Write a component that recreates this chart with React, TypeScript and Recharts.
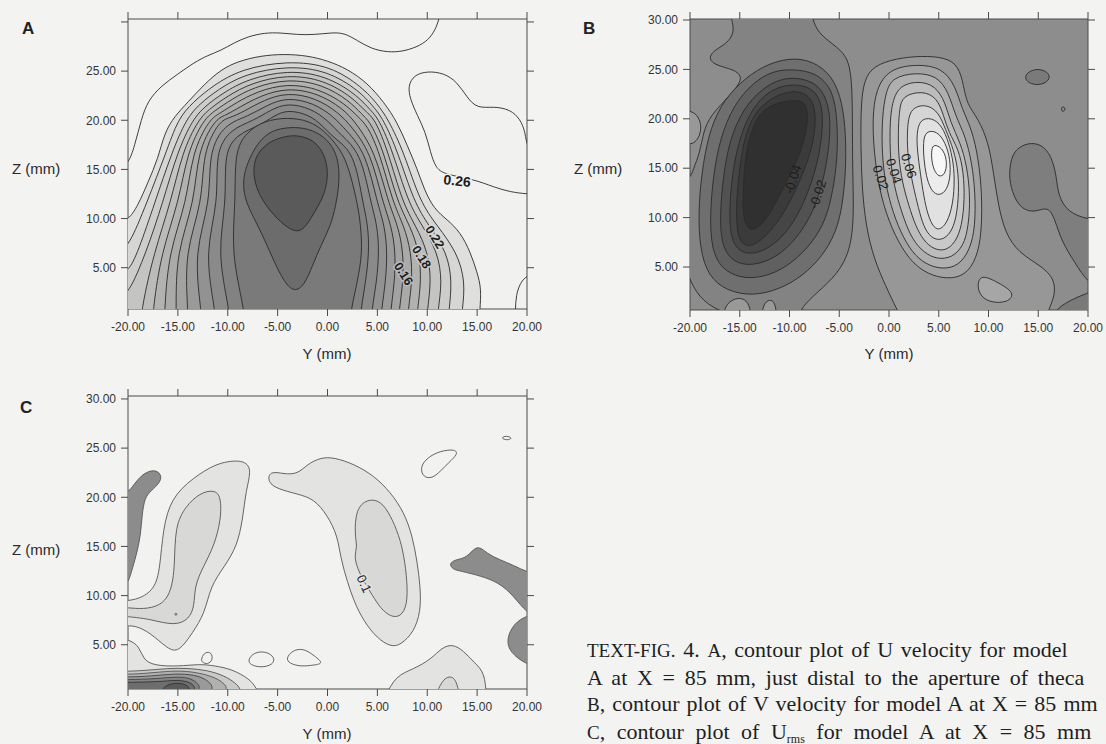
import React from 'react'
import { ScatterChart, Scatter, XAxis, YAxis, CartesianGrid } from 'recharts'

const SANS = '"Liberation Sans", Arial, Helvetica, sans-serif'
const SERIF = '"Liberation Serif", "Times New Roman", serif'

const yTicks = [-20, -15, -10, -5, 0, 5, 10, 15, 20]
const zTicks = [5, 10, 15, 20, 25, 30]

// ---------- A: U velocity, traced contours as [Y mm, Z mm] ----------
const uOuterLine = [[-21, 15.4], [-20, 15.4], [-19.33, 17.4], [-18.67, 20.1], [-18, 22], [-16.67, 23.5], [-15, 24.7], [-13.33, 25.9], [-12, 26.6], [-10.67, 27.1], [-9.33, 27.9], [-8, 28.5], [-6.33, 28.9], [-4.67, 28.9], [-3, 28.7], [-1.33, 28.7], [0.33, 28.9], [1.67, 28.9], [3, 28.1], [4.33, 27.3], [6, 26.9], [7.67, 27], [9.33, 27.6], [10.33, 28.4], [10.93, 29.5], [11.17, 30.3], [11.3, 31]]
const uRightLobe = [[21, 17.1], [20, 17.1], [19.83, 18.8], [19.33, 20.1], [18.33, 21.1], [16.67, 21.4], [15, 21.2], [14, 22.3], [13, 23.9], [11.67, 24.8], [10, 25.0], [8.67, 24.6], [8.07, 23.5], [8.27, 22.2], [9, 20.5], [9.83, 18.8], [10.33, 16.7], [10.83, 15.2], [11.67, 14.5], [14.67, 14.0], [16.67, 13.2], [18.33, 12.7], [20, 12.5], [21, 12.5]]
const uCornerLine = [[18.83, -1], [18.83, 0.71], [18.9, 2.2], [19.33, 3.5], [20, 4.2], [21, 4.5]]
const uBell0 = [[-21, -1], [-21, 9.79], [-20, 9.79], [-19, 11.32], [-18, 13.69], [-17, 16.06], [-16.33, 18.77], [-15.33, 20.4], [-14, 21.83], [-12.33, 23.69], [-10.67, 25.15], [-9, 25.99], [-6.67, 26.57], [-4.33, 26.74], [-2, 26.57], [0, 26.06], [2, 25.22], [4, 23.79], [5.67, 21.83], [7, 19.79], [8, 17.42], [9, 15.05], [9.67, 13.01], [10.67, 10.98], [12, 9.89], [13.33, 8.6], [14.33, 6.57], [15, 4.54], [15.43, 2.84], [15.27, 0.71], [15.2, -1]]
const uBell1 = [[-21, -1], [-21, 6.91], [-20, 6.91], [-18.1, 11.66], [-16.17, 16.74], [-15, 20.13], [-13.5, 21.83], [-11.5, 23.52], [-8.67, 25.22], [-4, 26.06], [0.33, 25.55], [3.5, 23.35], [5, 21.66], [6.07, 20.13], [7.67, 16.74], [9.27, 11.66], [11, 9.28], [13, 6.57], [13.83, 3.52], [13.5, 0.71], [13.4, -1]]
const uBell2 = [[-21, -1], [-21, 4.54], [-20, 4.54], [-19, 6.57], [-17.3, 11.66], [-15.6, 16.74], [-14.17, 20.13], [-12.83, 21.66], [-11, 23.11], [-8.33, 24.71], [-4, 25.55], [0, 25.05], [3.17, 23.01], [4.57, 21.42], [5.6, 20.13], [7.07, 16.74], [8.67, 11.66], [10.17, 9.28], [12, 6.57], [12.5, 3.52], [12.17, 0.71], [12.1, -1]]
const uBell3 = [[-21, -1], [-21, 2.16], [-20, 2.16], [-18.17, 6.57], [-16.5, 11.66], [-15.07, 16.74], [-13.5, 20.13], [-12.27, 21.42], [-10.5, 22.77], [-8, 24.2], [-4, 25.11], [-0.17, 24.54], [2.83, 22.67], [4.2, 21.15], [5.17, 20.13], [6.57, 16.74], [8.07, 11.66], [9.5, 9.28], [11.07, 6.57], [11.5, 3.52], [11.07, 0.71], [11, -1]]
const uBell4 = [[-18.7, -1], [-18.67, 0.71], [-17.4, 6.57], [-15.7, 11.66], [-14.57, 16.74], [-12.93, 20.13], [-11.73, 21.22], [-10.07, 22.44], [-7.67, 23.79], [-4, 24.67], [-0.33, 24.1], [2.5, 22.33], [3.83, 20.88], [4.77, 20.13], [6.1, 16.74], [7.5, 11.66], [8.83, 9.28], [10.1, 6.57], [10.4, 3.52], [10, 0.71], [9.95, -1]]
const uBell5 = [[-17.55, -1], [-17.5, 0.71], [-16.67, 6.57], [-14.9, 11.66], [-14.07, 16.74], [-12.4, 20.13], [-11.27, 20.98], [-9.67, 22.1], [-7.4, 23.38], [-4, 24.23], [-0.5, 23.66], [2.17, 22], [3.47, 20.57], [4.33, 19.79], [5.67, 16.74], [7, 11.66], [8.27, 9.28], [9.23, 6.57], [9.4, 3.52], [9, 0.71], [8.95, -1]]
const uBell6 = [[-16.35, -1], [-16.33, 0.71], [-15.93, 6.57], [-14.1, 11.66], [-13.57, 16.74], [-11.83, 20.13], [-10.77, 20.71], [-9.27, 21.72], [-7.07, 22.94], [-4, 23.76], [-0.73, 23.18], [1.83, 21.62], [3.13, 20.27], [4, 19.45], [5.23, 16.74], [6.53, 11.66], [7.67, 9.28], [8.4, 6.57], [8.5, 3.52], [8.07, 0.71], [8.05, -1]]
const uBell7 = [[-15.2, -1], [-15.17, 0.71], [-15.17, 6.57], [-13.3, 11.66], [-13.07, 16.74], [-11.27, 20.13], [-10.27, 20.47], [-8.83, 21.32], [-6.73, 22.5], [-4, 23.32], [-0.93, 22.74], [1.5, 21.22], [2.83, 19.79], [4.8, 16.74], [6.07, 11.66], [7.07, 9.28], [7.6, 6.57], [7.6, 3.52], [7.17, 0.71], [7.15, -1]]
const uBell8 = [[-14, -1], [-14, 0.71], [-14.33, 6.57], [-12.5, 11.66], [-12.53, 16.74], [-10.83, 19.96], [-9.83, 20.23], [-8.4, 20.88], [-6.4, 22.06], [-4, 22.84], [-1.17, 22.27], [1.07, 20.81], [2.4, 19.38], [4.33, 16.74], [5.53, 11.66], [6.4, 9.28], [6.83, 6.57], [6.73, 3.52], [6.33, 0.71], [6.3, -1]]
const uBell9 = [[-12.6, -1], [-12.67, 0.71], [-13.4, 6.57], [-11.7, 11.66], [-11.93, 16.74], [-10.33, 19.62], [-7.93, 20.4], [-6, 21.59], [-4, 22.33], [-1.4, 21.76], [0.6, 20.4], [1.9, 18.94], [3.83, 16.74], [4.97, 11.66], [5.73, 9.28], [6, 6.57], [5.83, 3.52], [5.4, 0.71], [5.35, -1]]
const uBell10 = [[-11.2, -1], [-11.27, 0.71], [-12.33, 6.57], [-10.9, 11.66], [-11.27, 16.74], [-9.73, 19.11], [-7.4, 19.96], [-5.67, 21.08], [-4, 21.76], [-1.67, 21.22], [0.07, 19.96], [1.33, 18.5], [3.33, 16.74], [4.33, 11.66], [5, 9.28], [5.17, 6.57], [4.93, 3.52], [4.43, 0.71], [4.4, -1]]
const uBell11 = [[-9.8, -1], [-9.83, 0.71], [-11.07, 6.57], [-10.1, 11.66], [-10.4, 16.74], [-9, 18.61], [-6.83, 19.45], [-5.33, 20.47], [-4, 21.08], [-1.83, 20.57], [-0.5, 19.45], [0.73, 18.1], [2.67, 16.74], [3.53, 11.66], [4.07, 9.28], [4.17, 6.57], [3.83, 3.52], [3.33, 0.71], [3.3, -1]]
const uBell12 = [[-8.3, -1], [-8.33, 0.71], [-9.67, 6.57], [-9.2, 11.66], [-9.33, 16.74], [-8.17, 18.77], [-6.33, 19.96], [-4, 20.3], [-1.83, 19.96], [-0.33, 18.94], [1, 17.42], [2, 15.72], [3, 11.66], [3.33, 9.28], [3.5, 6.57], [3, 3.52], [2.33, 0.71], [2.3, -1]]
const uRing = [[-4.33, 19.28], [-2.33, 19.28], [-0.67, 18.61], [0.5, 17.42], [1.17, 15.72], [1.17, 13.35], [0.83, 11.32], [0.33, 9.28], [-0.67, 7.25], [-1.5, 5.22], [-2.33, 3.18], [-3.33, 2.5], [-4.33, 3.52], [-5.33, 5.55], [-6.33, 7.93], [-7.33, 9.96], [-8.33, 11.99], [-8.5, 14.03], [-8, 15.72], [-7.17, 17.42], [-6, 18.77]]
const uCore = [[-4, 18.44], [-2.83, 18.44], [-1.5, 18.03], [-0.5, 16.91], [0, 15.38], [0, 13.69], [-0.5, 11.99], [-1.5, 10.3], [-2.33, 8.94], [-3.17, 8.6], [-4.33, 9.28], [-5.67, 10.64], [-6.83, 12.33], [-7.4, 14.03], [-7.4, 15.72], [-6.83, 16.91], [-5.67, 17.93]]
const uTagAt = [[13, 13.86], [10.73, 8.1], [9.4, 6.06], [7.6, 4.37]]
const uTagText = ['0.26', '0.22', '0.18', '0.16']

// ---------- B: V velocity ----------
const vLeftBand = [[-16, 31.1], [-15.83, 30.1], [-15.5, 28.75], [-16.33, 27.57], [-17.67, 26.89], [-18.17, 26.05], [-17.33, 25.37], [-15.67, 25.03], [-14.5, 24.19], [-16, 22.33], [-18, 20.3], [-18.67, 18.61], [-19, 16.59], [-19.67, 14.9], [-20, 13.88], [-21, 13.88], [-21, -0.3], [-9, -0.3], [-9, 0.61], [-7.67, 2.06], [-5.67, 3.75], [-4, 6.11], [-3.5, 9.83], [-3.67, 14.9], [-3.67, 19.96], [-3.73, 24.02], [-4.17, 26.38], [-5.67, 27.57], [-7.17, 28.75], [-7.67, 30.1], [-7.83, 31.1]]
const vEdgeBump = [[-21, 20.81], [-20, 20.81], [-19.33, 20.47], [-18.83, 19.46], [-19, 18.28], [-19.5, 17.6], [-20, 17.43], [-21, 17.43]]
const vFoot1 = [[-16.67, -0.3], [-16.5, 1.05], [-15.67, 1.79], [-14.67, 1.89], [-14, 1.21], [-13.83, -0.3]]
const vFoot2 = [[-12.83, -0.3], [-12.67, 1.21], [-12, 1.79], [-11.4, 1.38], [-11.27, -0.3]]
const vPosBand = [[1.33, -0.3], [0.83, 0.61], [-0.33, 3.07], [-1.5, 5.78], [-2.33, 9.15], [-2.73, 13.21], [-2.83, 17.26], [-2.83, 21.32], [-2.5, 24.02], [-1.5, 25.37], [0.67, 26.11], [3.33, 26.38], [5.67, 26.21], [7, 25.37], [7.5, 23.34], [7.83, 21.49], [9, 19.96], [10, 17.6], [10.5, 14.56], [11, 11.18], [11.67, 8.48], [13, 6.45], [15.33, 5.1], [16.67, 3.75], [16.67, 2.06], [16, 0.61], [15.83, -0.3]]
const vTail = [[9, 4.42], [11, 3.41], [12.67, 2.4], [12, 1.38], [10, 1.38], [8.83, 2.4]]
const vRightBand = [[12.17, 15.57], [12.67, 16.92], [14, 17.6], [15.33, 17.43], [16.33, 16.25], [16.83, 14.22], [17, 12.2], [18, 10.51], [20, 9.83], [21, 9.83], [21, 3.07], [20, 3.41], [18.67, 5.44], [17.33, 7.63], [16.67, 9.83], [16, 11.18], [14.67, 10.51], [13.33, 10.84], [12.5, 12.2], [12.07, 13.88]]
const vSpot = [[13.67, 24.53], [14.67, 25.1], [15.83, 24.86], [16.27, 24.19], [15.67, 23.51], [14.5, 23.41], [13.73, 23.85]]
const vDot = [[17.27, 21.15], [17.6, 21.25], [17.77, 20.91], [17.4, 20.64]]
const vCorner = [[16.67, -0.3], [16.67, 0.61], [18, 1.55], [20, 2.4], [21, 2.7], [21, -0.3]]
const vNeg1 = [[-10, 26.21], [-7.67, 25.88], [-5.67, 24.36], [-4.67, 21.65], [-4.33, 18.28], [-4.33, 14.9], [-4.67, 11.18], [-5.33, 8.48], [-6.67, 6.11], [-8.67, 4.09], [-11, 2.74], [-13.67, 2.06], [-16.33, 2.57], [-18.17, 4.09], [-19, 6.79], [-19.17, 10.51], [-18.83, 14.56], [-18.17, 18.28], [-17, 21.32], [-15, 23.68], [-12.67, 25.37]]
const vNeg2 = [[-9.67, 25.03], [-7.33, 24.69], [-5.67, 23.01], [-5.17, 19.96], [-5.17, 15.91], [-5.67, 12.53], [-6.33, 9.83], [-7.67, 7.47], [-9.67, 5.44], [-12, 4.09], [-14.67, 3.75], [-16.83, 4.76], [-17.83, 6.79], [-18, 10.17], [-17.67, 14.22], [-17, 17.94], [-15.67, 21.32], [-13.67, 23.68], [-11.67, 24.86]]
const vNeg3 = [[-9.33, 24.19], [-7.33, 23.68], [-6.17, 21.99], [-5.83, 19.29], [-6.17, 15.91], [-6.83, 12.87], [-7.83, 10.17], [-9.33, 7.8], [-11.33, 5.94], [-13.67, 5.1], [-15.67, 5.44], [-16.83, 7.13], [-17, 10.17], [-16.67, 14.22], [-16, 17.94], [-14.67, 20.98], [-12.83, 23.01], [-11, 24.02]]
const vNeg4 = [[-9.17, 23.51], [-7.5, 23.01], [-6.67, 21.32], [-6.67, 18.61], [-7.17, 15.57], [-8, 12.87], [-9.17, 10.17], [-10.83, 7.8], [-12.83, 6.45], [-14.67, 6.28], [-15.83, 7.47], [-16.07, 10.17], [-15.83, 13.88], [-15.17, 17.6], [-14, 20.64], [-12.5, 22.5], [-10.83, 23.34]]
const vNeg5 = [[-9, 22.84], [-7.83, 22.16], [-7.33, 20.64], [-7.5, 17.94], [-8.33, 15.24], [-9.33, 12.87], [-10.5, 10.51], [-12, 8.48], [-13.5, 7.13], [-14.83, 7.13], [-15.33, 8.82], [-15.33, 11.86], [-15, 15.24], [-14.5, 18.28], [-13.5, 20.64], [-12, 21.99], [-10.5, 22.67]]
const vNeg6 = [[-9, 21.99], [-8.17, 21.32], [-8.17, 19.29], [-8.83, 16.59], [-10, 14.22], [-11.17, 11.86], [-12.5, 9.49], [-13.83, 8.48], [-14.67, 9.49], [-14.67, 12.53], [-14.5, 15.91], [-13.83, 18.95], [-12.83, 20.81], [-11.33, 21.65]]
const vPos1 = [[0, 25.03], [2.67, 25.54], [5.33, 25.2], [6.67, 23.34], [7.33, 20.98], [8.33, 18.95], [9, 15.91], [9.33, 12.53], [9.33, 9.15], [9, 6.45], [8, 4.42], [6.33, 3.75], [4.33, 4.09], [2.67, 5.1], [1.33, 6.79], [0, 9.49], [-1, 12.87], [-1.5, 16.59], [-1.67, 19.96], [-1.33, 23.01]]
const vPos2 = [[0.33, 24.19], [2.67, 24.69], [4.83, 24.36], [6, 22.67], [6.67, 20.3], [7.67, 18.28], [8.33, 15.57], [8.67, 12.53], [8.67, 9.15], [8.17, 6.79], [7, 5.1], [5.33, 4.76], [3.67, 5.27], [2.33, 6.45], [1.17, 8.48], [0.17, 11.18], [-0.5, 14.22], [-0.73, 17.26], [-0.67, 20.3], [-0.33, 22.67]]
const vPos3 = [[0.83, 23.34], [3, 23.85], [4.67, 23.34], [5.67, 21.65], [6.17, 19.63], [7.17, 17.6], [7.83, 15.24], [8.17, 12.2], [8, 9.15], [7.5, 7.13], [6.33, 5.94], [4.83, 5.78], [3.5, 6.45], [2.33, 7.8], [1.5, 9.83], [0.67, 12.53], [0.17, 15.24], [0.07, 18.28], [0.17, 20.98]]
const vPos4 = [[1.33, 22.33], [3.33, 22.84], [4.83, 22.16], [5.5, 20.3], [6, 18.61], [7, 16.92], [7.5, 14.56], [7.6, 11.86], [7.33, 9.15], [6.67, 7.47], [5.67, 6.62], [4.5, 6.79], [3.5, 7.63], [2.67, 9.15], [2, 11.18], [1.33, 13.55], [0.93, 16.25], [0.93, 19.29], [1.07, 20.98]]
const vPos5 = [[2.17, 21.15], [3.83, 21.49], [5, 20.64], [5.67, 18.95], [6.5, 16.92], [7, 14.56], [7, 11.86], [6.67, 9.49], [6, 8.14], [5, 7.63], [4, 8.14], [3.33, 9.49], [2.83, 11.52], [2.27, 13.88], [1.83, 16.59], [1.83, 19.29]]
const vPos6 = [[3, 19.96], [4.33, 20.13], [5.33, 19.29], [6, 17.6], [6.5, 15.57], [6.6, 13.21], [6.33, 10.84], [5.67, 9.15], [4.83, 8.65], [4.17, 9.49], [3.67, 11.18], [3.33, 13.21], [3, 15.57], [2.73, 17.94]]
const vPos7 = [[3.67, 18.78], [4.83, 18.78], [5.67, 17.6], [6.17, 15.91], [6.17, 13.88], [5.67, 12.53], [4.83, 12.2], [4.17, 12.87], [3.73, 14.22], [3.5, 15.91], [3.43, 17.6]]
const vPos8 = [[4.5, 17.43], [5.33, 17.09], [5.83, 15.91], [5.73, 14.56], [5.17, 14.05], [4.6, 14.56], [4.27, 15.74], [4.27, 16.92]]
const vTagAt = [[-9.67, 13.88], [-7.17, 12.37], [-0.83, 14.05], [0.5, 14.73], [2, 15.24]]
const vTagText = ['-0.04', '-0.02', '0.02', '0.04', '0.06']

// ---------- C: U rms ----------
const rDarkL = [[-21, 20.5], [-20, 20.5], [-19.6, 21.01], [-19, 21.85], [-18.17, 22.6], [-17.17, 22.8], [-16.6, 22.19], [-16.83, 21.45], [-17.67, 20.67], [-18.33, 19.99], [-18.6, 18.14], [-18.73, 16.11], [-19.17, 14.08], [-19.67, 12.39], [-20, 11.21], [-21, 10.71]]
const rLeftOuter = [[-21, 9.46], [-20, 9.46], [-18.5, 9.79], [-17.1, 10.98], [-16.73, 13.68], [-16.37, 17.73], [-15.3, 20.44], [-12.8, 22.46], [-10.67, 23.64], [-8.17, 23.81], [-7.63, 22.63], [-8.17, 20.77], [-8.5, 17.73], [-9.07, 15.03], [-10.3, 13], [-11.73, 10.98], [-12.27, 8.27], [-13.5, 6.25], [-14.93, 4.22], [-16, 4.56], [-17.8, 6.25], [-19.23, 6.92], [-20, 6.92], [-21, 6.92]]
const rLeftInner = [[-21, 8.78], [-20, 8.78], [-18.5, 8.61], [-16.73, 8.95], [-15.67, 10.3], [-15.3, 13], [-15.3, 17.06], [-14.23, 19.08], [-12.8, 20.44], [-11.37, 20.77], [-10.67, 20.1], [-10.67, 17.73], [-11.37, 15.03], [-12.43, 13], [-13.33, 10.98], [-13.33, 8.95], [-13.87, 7.6], [-15.3, 6.92], [-17.8, 7.6], [-19.23, 7.77], [-20, 7.87], [-21, 7.87]]
const rPore = [[-15.35, 8.1], [-15.2, 8.27], [-15.05, 8.1], [-15.2, 7.93]]
const rMidOuter = [[-5.83, 22.7], [-4.33, 22.36], [-3, 22.36], [-2, 23.37], [-0.67, 24.05], [0.67, 24.05], [2.67, 23.37], [4.67, 22.19], [6.33, 20.5], [7.67, 18.48], [8.5, 16.11], [9, 13.41], [9.33, 10.71], [9.33, 8.34], [8.67, 6.31], [7.33, 4.96], [6.33, 4.79], [5, 5.64], [3.67, 7.33], [2.67, 9.35], [2, 11.38], [1.33, 13.75], [1, 16.11], [0, 18.14], [-1.33, 19.83], [-3, 20.33], [-5, 20.84], [-6, 21.52]]
const rMidInner = [[2.83, 18.81], [4, 19.83], [5.33, 19.66], [6.33, 18.14], [7.17, 16.11], [7.67, 14.08], [8, 11.38], [8, 9.02], [7.33, 7.83], [6.33, 7.83], [5.33, 8.68], [4.5, 10.03], [3.67, 11.38], [3, 12.73], [2.67, 14.08], [3, 14.93], [2.73, 16.11]]
const rIsle1 = [[-12.67, 3.61], [-12.27, 4.29], [-11.6, 4.22], [-11.5, 3.44], [-12, 3.0], [-12.6, 3.2]]
const rIsle2 = [[-8, 3.44], [-7.4, 4.22], [-6.17, 4.36], [-5.23, 3.68], [-5.5, 2.94], [-6.67, 2.67], [-7.73, 2.94]]
const rIsle3 = [[-4.17, 3.61], [-3.5, 4.46], [-2.4, 4.62], [-1.5, 4.02], [-0.33, 3.1], [-1.33, 2.94], [-2.67, 2.77], [-3.83, 3.1]]
const rIsle4 = [[9.27, 23.04], [10, 24.05], [11.33, 24.73], [12.83, 24.89], [13.07, 24.39], [12.17, 23.54], [11.27, 22.6], [10.5, 21.92], [9.6, 22.02]]
const rIsle5 = [[17.33, 26.04], [17.93, 26.28], [18.6, 26.01], [18, 25.77]]
const rDarkR1 = [[12.17, 13.24], [12.83, 13.68], [14, 13.81], [15, 15.27], [16, 14.25], [17.2, 13.68], [18.67, 13.07], [20, 12.39], [21, 12.2], [21, 8.1], [20, 8.17], [18.67, 9.96], [17.2, 11.31], [15.4, 11.99], [13.33, 12.5], [12.57, 12.66]]
const rDarkR2 = [[21, 8], [20, 8], [18.67, 7.16], [17.93, 5.57], [18.27, 4.22], [20, 2.94], [21, 2.94]]
const rBaseOuter = [[5.77, -0.3], [6.83, 1.85], [8.63, 2.53], [10.4, 3.54], [11.47, 4.73], [12.57, 5.07], [13.63, 4.39], [14.7, 3.2], [15.77, 2.19], [15.93, -0.3]]
const rBaseInner = [[10.77, -0.3], [11.47, 1.35], [12.2, 1.85], [12.9, 1.52], [13.27, -0.3]]
const rFloor = [[-21, 5.57], [-20, 5.57], [-18.87, 4.89], [-18.5, 3.54], [-17.43, 2.87], [-14.93, 2.8], [-12.8, 3.04], [-11.37, 2.87], [-9.6, 2.53], [-7.8, 1.52], [-7.1, 0.57], [-6.83, -0.3], [-21, -0.3]]
const rMound1 = [[-21, 2.3], [-20, 2.3], [-18, 2.4], [-16, 2.6], [-14, 2.62], [-12, 2.4], [-10.33, 1.85], [-9.2, 1.1], [-8.7, 0.5], [-8.6, -0.3], [-21, -0.3]]
const rMound2 = [[-21, 2.0], [-20, 2.0], [-18, 2.1], [-15.67, 2.35], [-13.67, 2.3], [-11.67, 1.85], [-10.2, 1.1], [-9.7, -0.3], [-21, -0.3]]
const rMound3 = [[-21, 1.72], [-20, 1.72], [-17.67, 1.8], [-15.33, 2.08], [-13.33, 1.95], [-11.8, 1.4], [-10.9, -0.3], [-21, -0.3]]
const rMound4 = [[-21, 1.45], [-20, 1.45], [-17.33, 1.52], [-15, 1.78], [-13.17, 1.55], [-12.1, -0.3], [-21, -0.3]]
const rMound5 = [[-21, 1.18], [-20, 1.18], [-17, 1.22], [-15, 1.45], [-13.33, 1.15], [-13, -0.3], [-21, -0.3]]
const rMound6 = [[-17, -0.3], [-16.33, 0.95], [-15, 1.15], [-13.83, 0.9], [-13.67, -0.3]]
const rTagAt = [[3.67, 11.21]]
const rTagText = ['0.1']

type Layer = { pts: number[][]; fill?: string; closed?: boolean; stroke?: string; sw?: number }
type Tag = { at: number[]; text: string; angle: number; size: number; bold?: boolean; halo?: string }

const NoDot = () => <g />
const toRows = (pts: number[][]) => pts.map(([y, z]) => ({ y, z }))

const tagShape = (t: Tag) => (p: any) => (
  <text
    x={p.cx}
    y={p.cy}
    transform={`rotate(${t.angle} ${p.cx} ${p.cy})`}
    textAnchor="middle"
    dominantBaseline="central"
    fontFamily={SANS}
    fontSize={t.size}
    fontWeight={t.bold ? 700 : 400}
    fill="#1c1c1c"
    stroke={t.halo || 'none'}
    strokeWidth={t.halo ? 3 : 0}
    style={{ paintOrder: 'stroke' }}
  >
    {t.text}
  </text>
)

function Contours({ width, height, margin, zDomain, bg, layers, tags, skipTop }: {
  width: number; height: number; margin: any; zDomain: number[]; bg: string; layers: Layer[]; tags: Tag[]; skipTop?: boolean
}) {
  const tick = { fill: '#353535', fontSize: 12, fontFamily: SANS }
  const fmtZ = (v: number) => (skipTop && v === 30 ? '' : v.toFixed(2))
  return (
    <ScatterChart width={width} height={height} margin={margin}>
      <CartesianGrid fill={bg} stroke="none" />
      <XAxis type="number" dataKey="y" domain={[-20, 20]} ticks={yTicks} allowDataOverflow interval={0}
        height={30} tickSize={7} tickMargin={6} stroke="#4a4a4a" tick={tick} tickFormatter={(v: number) => v.toFixed(2)} />
      <XAxis xAxisId="top" orientation="top" type="number" dataKey="y" domain={[-20, 20]} ticks={yTicks} allowDataOverflow
        interval={0} height={10} tickSize={7} stroke="#4a4a4a" tickFormatter={() => ''} />
      <YAxis type="number" dataKey="z" domain={zDomain} ticks={zTicks} allowDataOverflow interval={0}
        width={40} tickSize={7} tickMargin={5} stroke="#4a4a4a" tick={tick} tickFormatter={fmtZ} />
      <YAxis yAxisId="right" orientation="right" type="number" dataKey="z" domain={zDomain} ticks={zTicks} allowDataOverflow
        interval={0} width={10} tickSize={7} stroke="#4a4a4a" tickFormatter={() => ''} />
      {layers.map((l, i) => (
        <Scatter
          key={'c' + i}
          data={toRows(l.pts)}
          shape={NoDot}
          line={{ stroke: l.stroke || '#2a2a2a', strokeWidth: l.sw || 0.9, fill: l.fill || 'none' }}
          lineType="joint"
          lineJointType={l.closed ? 'basisClosed' : 'basis'}
          isAnimationActive={false}
        />
      ))}
      {tags.map((t, i) => (
        <Scatter key={'t' + i} data={toRows([t.at])} shape={tagShape(t)} isAnimationActive={false} />
      ))}
    </ScatterChart>
  )
}

const uBells = [uBell0, uBell1, uBell2, uBell3, uBell4, uBell5, uBell6, uBell7, uBell8, uBell9, uBell10, uBell11, uBell12]
const uShades = ['#dfdfdd', '#d6d6d4', '#cdcdcc', '#c4c4c3', '#bbbbba', '#b2b2b1', '#aaaaa9', '#a2a2a1', '#9a9a9a', '#929292', '#8a8a8a', '#828282', '#7a7a7a']

const aLayers: Layer[] = [
  ...uBells.map((b, i) => ({ pts: b, fill: uShades[i] })),
  { pts: uRing, fill: '#6c6c6c', closed: true },
  { pts: uCore, fill: '#5a5a5a', closed: true },
  { pts: uOuterLine },
  { pts: uRightLobe },
  { pts: uCornerLine },
]
const aTags: Tag[] = uTagText.map((text, i) => ({
  at: uTagAt[i], text, angle: i === 0 ? 6 : 58, size: i === 0 ? 14 : 12.5, bold: true, halo: i === 0 ? '#f1f1ef' : ['', '#d8d8d6', '#c8c8c7', '#b8b8b7'][i],
}))

const vNeg = [vNeg1, vNeg2, vNeg3, vNeg4, vNeg5, vNeg6]
const vNegShades = ['#6f6f6f', '#606060', '#525252', '#464646', '#3b3b3b', '#303030']
const vPos = [vPos1, vPos2, vPos3, vPos4, vPos5, vPos6, vPos7, vPos8]
const vPosShades = ['#a2a2a2', '#afafaf', '#bcbcbc', '#c9c9c9', '#d5d5d5', '#e1e1e1', '#ececec', '#f7f7f7']

const bLayers: Layer[] = [
  { pts: vLeftBand, fill: '#838383', closed: true },
  { pts: vEdgeBump, fill: '#989898', closed: true },
  { pts: vFoot1, fill: '#999999' },
  { pts: vFoot2, fill: '#999999' },
  { pts: vPosBand, fill: '#979797' },
  { pts: vTail, fill: '#a6a6a6', closed: true },
  { pts: vRightBand, fill: '#7e7e7e', closed: true },
  { pts: vSpot, fill: '#7a7a7a', closed: true },
  { pts: vDot, fill: '#888888', closed: true },
  { pts: vCorner, fill: '#7a7a7a', closed: true },
  ...vNeg.map((p, i) => ({ pts: p, fill: vNegShades[i], closed: true })),
  ...vPos.map((p, i) => ({ pts: p, fill: vPosShades[i], closed: true })),
]
const bTags: Tag[] = vTagText.map((text, i) => ({
  at: vTagAt[i], text, angle: i < 2 ? -72 : 72, size: 13,
}))

const stip = '#e3e3e1'
const stipIn = '#d8d8d6'
const dark = '#8c8c8c'
const cLayers: Layer[] = [
  { pts: rDarkL, fill: dark, closed: true, stroke: '#555' },
  { pts: rLeftOuter, fill: stip, closed: true, stroke: '#555' },
  { pts: rLeftInner, fill: stipIn, closed: true, stroke: '#555' },
  { pts: rPore, closed: true, stroke: '#555' },
  { pts: rMidOuter, fill: stip, closed: true, stroke: '#555' },
  { pts: rMidInner, fill: stipIn, closed: true, stroke: '#555' },
  { pts: rIsle1, closed: true, stroke: '#555' },
  { pts: rIsle2, closed: true, stroke: '#555' },
  { pts: rIsle3, closed: true, stroke: '#555' },
  { pts: rIsle4, closed: true, stroke: '#555' },
  { pts: rIsle5, closed: true, stroke: '#555' },
  { pts: rDarkR1, fill: dark, closed: true, stroke: '#555' },
  { pts: rDarkR2, fill: dark, closed: true, stroke: '#555' },
  { pts: rBaseOuter, fill: stip, stroke: '#555' },
  { pts: rBaseInner, fill: stipIn, stroke: '#555' },
  { pts: rFloor, fill: stip, stroke: '#555' },
  { pts: rMound1, fill: '#c9c9c8', stroke: '#555' },
  { pts: rMound2, fill: '#b1b1b0', stroke: '#555' },
  { pts: rMound3, fill: '#9a9a9a', stroke: '#444' },
  { pts: rMound4, fill: '#838383', stroke: '#444' },
  { pts: rMound5, fill: '#6e6e6e', stroke: '#333' },
  { pts: rMound6, fill: '#5a5a5a', stroke: '#333' },
]
const cTags: Tag[] = rTagText.map((text, i) => ({ at: rTagAt[i], text, angle: 65, size: 13, halo: stip }))

const letter: React.CSSProperties = { position: 'absolute', fontFamily: SANS, fontWeight: 700, fontSize: 17, lineHeight: '20px', color: '#222' }
const axisName: React.CSSProperties = { position: 'absolute', fontFamily: SANS, fontSize: 15, lineHeight: '18px', color: '#2a2a2a', whiteSpace: 'nowrap' }
const sc: React.CSSProperties = { fontSize: 19 }

export default function App() {
  return (
    <div style={{ position: 'absolute', left: 0, top: 0, width: 1106, height: 744, overflow: 'hidden', background: '#f3f3f1' }}>
      <div style={{ position: 'absolute', left: 0, top: 0 }}>
        <Contours width={560} height={340} margin={{ top: 9, right: 23, bottom: 1, left: 88 }} zDomain={[0.8, 30.3]}
          bg="#f1f1ef" layers={aLayers} tags={aTags} skipTop />
      </div>
      <div style={{ position: 'absolute', left: 560, top: 0 }}>
        <Contours width={546} height={340} margin={{ top: 9, right: 8, bottom: 0, left: 90 }} zDomain={[0.65, 30.1]}
          bg="#8d8d8d" layers={bLayers} tags={bTags} />
      </div>
      <div style={{ position: 'absolute', left: 0, top: 380 }}>
        <Contours width={560} height={340} margin={{ top: 6, right: 23, bottom: 1, left: 88 }} zDomain={[0.5, 30.3]}
          bg="#f2f2f0" layers={cLayers} tags={cTags} />
      </div>

      <div style={{ ...letter, left: 22, top: 19 }}>A</div>
      <div style={{ ...letter, left: 583, top: 19 }}>B</div>
      <div style={{ ...letter, left: 20, top: 398 }}>C</div>

      <div style={{ ...axisName, left: 12, top: 160 }}>Z (mm)</div>
      <div style={{ ...axisName, left: 574, top: 160 }}>Z (mm)</div>
      <div style={{ ...axisName, left: 12, top: 541 }}>Z (mm)</div>
      <div style={{ ...axisName, left: 327, top: 345, transform: 'translateX(-50%)' }}>Y (mm)</div>
      <div style={{ ...axisName, left: 889, top: 345, transform: 'translateX(-50%)' }}>Y (mm)</div>
      <div style={{ ...axisName, left: 327, top: 725, transform: 'translateX(-50%)' }}>Y (mm)</div>

      <div style={{ position: 'absolute', left: 587, top: 637, fontFamily: SERIF, fontSize: 22, lineHeight: '26.5px', color: '#1e1e1e', whiteSpace: 'nowrap' }}>
        <div style={{ wordSpacing: 2.2 }}><span style={sc}>TEXT-FIG.</span> 4. <span style={sc}>A</span>, contour plot of U velocity for model</div>
        <div style={{ wordSpacing: 4.2 }}>A at X = 85 mm, just distal to the aperture of theca</div>
        <div style={{ wordSpacing: 1.6 }}><span style={sc}>B</span>, contour plot of V velocity for model A at X = 85 mm</div>
        <div style={{ wordSpacing: 6 }}><span style={sc}>C</span>, contour plot of U<span style={{ fontSize: 12, position: 'relative', top: 4, lineHeight: 0 }}>rms</span> for model A at X = 85 mm</div>
      </div>
    </div>
  )
}
